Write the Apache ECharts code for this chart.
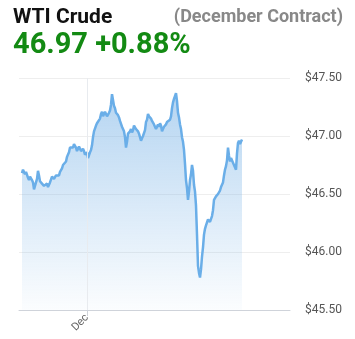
<!DOCTYPE html>
<html>
<head>
<meta charset="utf-8">
<script src="https://cdn.jsdelivr.net/npm/echarts@6/dist/echarts.min.js"></script>
<style>
html,body{margin:0;padding:0;background:#fff;}
#c{width:355px;height:339px;}
</style>
</head>
<body>
<div id="c"></div>
<script>
const titleText = 'WTI Crude';
const subText = '(December Contract)';
const priceText = '46.97 +0.88%';
const prices = [
46.68,46.71,46.70,46.67,46.69,46.68,46.64,46.62,46.65,46.66,46.62,46.60,46.54,46.55,46.60,46.63,46.70,46.66,46.61,46.62,
46.59,46.60,46.57,46.56,46.58,46.59,46.56,46.57,46.60,46.61,46.65,46.66,46.63,46.62,46.66,46.67,46.65,46.66,46.69,46.69,
46.72,46.75,46.76,46.76,46.78,46.82,46.84,46.86,46.90,46.91,46.89,46.90,46.93,46.94,46.90,46.87,46.88,46.91,46.90,46.87,
46.88,46.89,46.87,46.84,46.85,46.86,46.81,46.82,46.86,46.88,46.92,46.99,47.04,47.05,47.09,47.11,47.12,47.10,47.15,47.19,
47.21,47.17,47.18,47.21,47.20,47.17,47.16,47.20,47.22,47.27,47.36,47.31,47.26,47.24,47.20,47.21,47.18,47.16,47.13,47.12,
47.08,47.07,47.04,46.99,46.90,46.95,47.02,47.01,47.04,47.06,47.03,47.05,47.09,47.08,47.06,47.07,47.04,47.02,46.99,46.96,
46.98,47.00,47.01,47.05,47.12,47.14,47.19,47.17,47.16,47.15,47.13,47.12,47.10,47.09,47.06,47.07,47.10,47.08,47.11,47.09,
47.04,47.05,47.08,47.07,47.10,47.12,47.13,47.12,47.14,47.17,47.24,47.29,47.32,47.33,47.37,47.30,47.20,47.16,47.10,47.06,
46.99,46.95,46.88,46.76,46.62,46.55,46.45,46.52,46.62,46.67,46.75,46.70,46.58,46.52,46.40,46.15,45.88,45.82,45.78,45.85,
45.96,46.04,46.15,46.20,46.23,46.24,46.28,46.29,46.26,46.25,46.31,46.36,46.45,46.44,46.48,46.49,46.50,46.50,46.53,46.56,
46.57,46.60,46.66,46.71,46.74,46.79,46.90,46.83,46.78,46.81,46.80,46.77,46.78,46.76,46.71,46.85,46.94,46.96,46.93,46.95,
46.97
];
const xTickPositions = [65];
const xTickLabels = ['Dec'];
const yTicks = [45.5, 46.0, 46.5, 47.0, 47.5];

const chart = echarts.init(document.getElementById('c'));
const data = prices.map((p, i) => [i, p]);
chart.setOption({
  animation: false,
  title: [
    {text: titleText, left: 8, top: 2, textStyle: {fontFamily: 'Roboto', fontWeight: 'bold', fontSize: 21, color: '#111'}},
    {text: subText, right: 7, top: 3, textStyle: {fontFamily: 'Roboto', fontWeight: 'bold', fontSize: 18, color: '#888'}},
    {text: priceText, left: 8, top: 26, textStyle: {fontFamily: 'Roboto', fontWeight: 'bold', fontSize: 29, color: '#138a13'}}
  ],
  grid: {left: 19, right: 65, top: 78, bottom: 29},
  xAxis: {
    type: 'value', min: -3, max: 268,
    axisLine: {show: true, lineStyle: {color: '#cfd3da'}},
    axisTick: {show: true, customValues: xTickPositions, length: 6, lineStyle: {color: '#cfd3da'}},
    axisLabel: {
      customValues: xTickPositions,
      formatter: v => xTickLabels[xTickPositions.indexOf(v)] || '',
      rotate: 45, color: '#666', fontFamily: 'Roboto', fontSize: 11, margin: 6
    },
    splitLine: {show: false}
  },
  yAxis: {
    type: 'value', position: 'right', min: yTicks[0], max: yTicks[yTicks.length - 1], interval: 0.5,
    axisLine: {show: false}, axisTick: {show: false},
    axisLabel: {color: '#555', fontFamily: 'Roboto', fontSize: 12, margin: 15,
      formatter: v => '$' + v.toFixed(2)},
    splitLine: {show: true, lineStyle: {color: '#eeeeee'}}
  },
  series: [{
    type: 'line', data: data, showSymbol: false, symbol: 'none',
    lineStyle: {color: '#6aaee8', width: 2.5},
    areaStyle: {
      origin: 'start',
      color: new echarts.graphic.LinearGradient(0, 0, 0, 1, [
        {offset: 0, color: 'rgba(120,178,230,0.78)'},
        {offset: 1, color: 'rgba(120,178,230,0.04)'}
      ])
    },
    markLine: {
      silent: true, symbol: 'none', label: {show: false},
      lineStyle: {color: '#e8ebef', type: 'solid', width: 1},
      data: xTickPositions.map(x => ({xAxis: x}))
    }
  }]
});
</script>
</body>
</html>
